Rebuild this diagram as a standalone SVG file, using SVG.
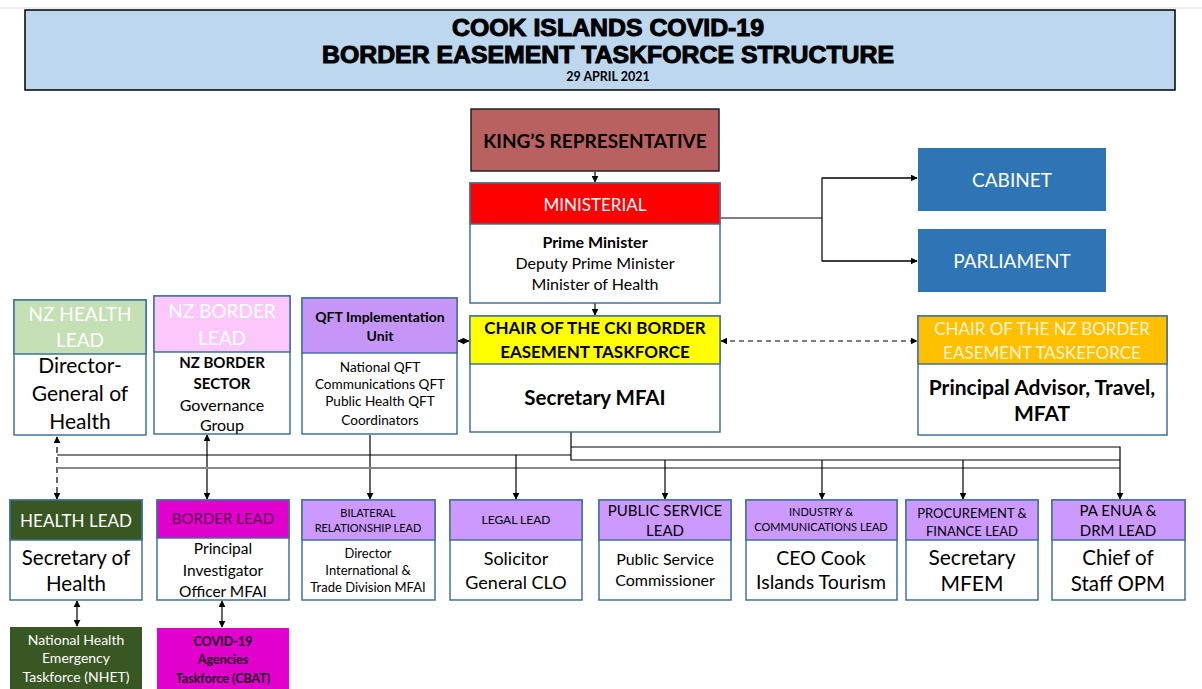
<svg xmlns="http://www.w3.org/2000/svg" width="1202" height="689" viewBox="0 0 1202 689">
<style>
text{font-family:Lato,"Liberation Sans",sans-serif;text-anchor:middle;}
.box{stroke:#41719C;stroke-width:1.5;}
.w{fill:#fff;}
.pur{fill:#CC99FF;}
.ln{stroke:#000;stroke-width:1.2;fill:none;}
.t{font-family:"Liberation Sans",Arial,sans-serif;font-weight:bold;stroke:#000;stroke-width:1;}
</style>
<defs>
<marker id="ah" viewBox="0 0 10 10" refX="9" refY="5" markerWidth="7" markerHeight="7" orient="auto-start-reverse" markerUnits="userSpaceOnUse">
<path d="M0,0 L10,5 L0,10 z" fill="#000"/>
</marker>
</defs>
<rect width="1202" height="689" fill="#fff"/>
<line x1="0" y1="8" x2="1202" y2="8" stroke="#ddd" stroke-width="1"/>
<g id="title">
<rect x="25" y="10" width="1150" height="80" fill="#BDD7EE" stroke="#000" stroke-width="1.5"/>
<text class="t" x="608" y="36" font-size="23" textLength="312" lengthAdjust="spacingAndGlyphs">COOK ISLANDS COVID-19</text>
<text class="t" x="608" y="63" font-size="23" textLength="572" lengthAdjust="spacingAndGlyphs">BORDER EASEMENT TASKFORCE STRUCTURE</text>
<text x="608" y="81" font-size="12.5" font-weight="bold">29 APRIL 2021</text>
</g>
<g id="connectors">
<line class="ln" x1="595" y1="172" x2="595" y2="182" marker-end="url(#ah)"/>
<line class="ln" x1="595" y1="303" x2="595" y2="315" marker-end="url(#ah)"/>
<polyline class="ln" points="720,218 822,218"/>
<polyline class="ln" points="917,178 822,178 822,261 917,261"/>
<line class="ln" x1="822" y1="178" x2="917" y2="178" marker-end="url(#ah)"/>
<line class="ln" x1="822" y1="261" x2="917" y2="261" marker-end="url(#ah)"/>
<line class="ln" x1="458" y1="341" x2="469" y2="341" marker-start="url(#ah)" marker-end="url(#ah)"/>
<line class="ln" x1="721" y1="341" x2="917" y2="341" stroke-dasharray="5,4" stroke="#444" marker-start="url(#ah)" marker-end="url(#ah)"/>
<line class="ln" x1="57" y1="437" x2="57" y2="499" stroke-dasharray="6,4" marker-start="url(#ah)" marker-end="url(#ah)"/>
<line class="ln" x1="207" y1="435" x2="207" y2="499" marker-start="url(#ah)" marker-end="url(#ah)"/>
<line class="ln" x1="370" y1="435" x2="370" y2="499" marker-end="url(#ah)"/>
<polyline class="ln" points="57,455 571,455"/>
<polyline class="ln" points="571,432 571,460 1120,460"/>
<polyline class="ln" points="571,447 1120,447 1120,460"/>
<line x1="57" y1="468" x2="1120" y2="468" stroke="#888" stroke-width="2"/>
<line class="ln" x1="516" y1="455" x2="516" y2="499" marker-end="url(#ah)"/>
<line class="ln" x1="665" y1="460" x2="665" y2="499" marker-end="url(#ah)"/>
<line class="ln" x1="822" y1="460" x2="822" y2="499" marker-end="url(#ah)"/>
<line class="ln" x1="963" y1="460" x2="963" y2="499" marker-end="url(#ah)"/>
<line class="ln" x1="1120" y1="460" x2="1120" y2="499" marker-end="url(#ah)"/>
<line class="ln" x1="77" y1="601" x2="77" y2="626" marker-start="url(#ah)" marker-end="url(#ah)"/>
<line class="ln" x1="222" y1="601" x2="222" y2="627" marker-start="url(#ah)" marker-end="url(#ah)"/>
</g>
<g id="kings-rep">
<rect x="471" y="109" width="248" height="62" fill="#B96060" stroke="#222" stroke-width="1.5"/>
<text x="595" y="148" font-size="19" font-weight="bold">KING’S REPRESENTATIVE</text>
</g>
<g id="ministerial">
<rect class="box w" x="470" y="183" width="250" height="120"/>
<rect class="box" x="470" y="183" width="250" height="41" fill="#FF0000"/>
<text x="595" y="211" font-size="17" fill="#fff">MINISTERIAL</text>
<text x="595" y="248" font-size="16" font-weight="bold">Prime Minister</text>
<text x="595" y="269" font-size="16">Deputy Prime Minister</text>
<text x="595" y="290" font-size="16">Minister of Health</text>
</g>
<g id="cabinet">
<rect x="918" y="148" width="188" height="63" fill="#2E75B6"/>
<text x="1012" y="187" font-size="19" fill="#fff">CABINET</text>
</g>
<g id="parliament">
<rect x="918" y="229" width="188" height="63" fill="#2E75B6"/>
<text x="1012" y="268" font-size="19" fill="#fff">PARLIAMENT</text>
</g>
<g id="chair-cki">
<rect class="box w" x="470" y="316" width="250" height="116"/>
<rect class="box" x="470" y="316" width="250" height="48" fill="#FFFF00"/>
<text x="595" y="334" font-size="17" font-weight="bold">CHAIR OF THE CKI BORDER</text>
<text x="595" y="358" font-size="17" font-weight="bold">EASEMENT TASKFORCE</text>
<text x="595" y="405" font-size="20.5" font-weight="bold">Secretary MFAI</text>
</g>
<g id="chair-nz">
<rect class="box w" x="918" y="316" width="249" height="119"/>
<rect class="box" x="918" y="316" width="249" height="48" fill="#FFC000"/>
<text x="1042" y="335" font-size="17" fill="#FFF4D6">CHAIR OF THE NZ BORDER</text>
<text x="1042" y="359" font-size="17" fill="#FFF4D6">EASEMENT TASKEFORCE</text>
<text x="1042" y="395" font-size="21" font-weight="bold">Principal Advisor, Travel,</text>
<text x="1042" y="421" font-size="21" font-weight="bold">MFAT</text>
</g>
<g id="nz-health-lead">
<rect class="box w" x="14" y="300" width="132" height="135"/>
<rect class="box" x="14" y="300" width="132" height="54" fill="#C5E0B4"/>
<text x="80" y="321" font-size="19" fill="#fff">NZ HEALTH</text>
<text x="80" y="347" font-size="19" fill="#fff">LEAD</text>
<text x="80" y="373" font-size="21">Director-</text>
<text x="80" y="401" font-size="21">General of</text>
<text x="80" y="429" font-size="21">Health</text>
</g>
<g id="nz-border-lead">
<rect class="box w" x="154" y="296" width="136" height="138"/>
<rect class="box" x="154" y="296" width="136" height="56" fill="#FCC8FC"/>
<text x="222" y="318" font-size="19" fill="#fff">NZ BORDER</text>
<text x="222" y="345" font-size="19" fill="#fff">LEAD</text>
<text x="222" y="368" font-size="15" font-weight="bold">NZ BORDER</text>
<text x="222" y="389" font-size="15" font-weight="bold">SECTOR</text>
<text x="222" y="411" font-size="16">Governance</text>
<text x="222" y="431" font-size="16">Group</text>
</g>
<g id="qft-unit">
<rect class="box w" x="302" y="298" width="155" height="136"/>
<rect class="box" x="302" y="298" width="155" height="55" fill="#C596F5"/>
<text x="380" y="322" font-size="14" font-weight="bold">QFT Implementation</text>
<text x="380" y="341" font-size="14" font-weight="bold">Unit</text>
<text x="380" y="372" font-size="13.6">National QFT</text>
<text x="380" y="389" font-size="13.6">Communications QFT</text>
<text x="380" y="406" font-size="13.6">Public Health QFT</text>
<text x="380" y="425" font-size="13.6">Coordinators</text>
</g>
<g id="health-lead">
<rect class="box w" x="10" y="500" width="132" height="100"/>
<rect class="box" x="10" y="500" width="132" height="40" fill="#385723"/>
<text x="76" y="527" font-size="17" fill="#fff">HEALTH LEAD</text>
<text x="76" y="565" font-size="20.5">Secretary of</text>
<text x="76" y="591" font-size="20.5">Health</text>
</g>
<g id="border-lead">
<rect class="box w" x="157" y="500" width="132" height="100"/>
<rect class="box" x="157" y="500" width="132" height="38" fill="#E100CC"/>
<text x="223" y="524" font-size="15" fill="#5A0050">BORDER LEAD</text>
<text x="223" y="554" font-size="15.5">Principal</text>
<text x="223" y="576" font-size="15.5">Investigator</text>
<text x="223" y="597" font-size="15.5">Officer MFAI</text>
</g>
<g id="bilateral-lead">
<rect class="box w" x="302" y="500" width="133" height="100"/>
<rect class="box pur" x="302" y="500" width="133" height="40"/>
<text x="368" y="517" font-size="11">BILATERAL</text>
<text x="368" y="532" font-size="11">RELATIONSHIP LEAD</text>
<text x="368" y="558" font-size="13">Director</text>
<text x="368" y="575" font-size="13">International &amp;</text>
<text x="368" y="592" font-size="13">Trade Division MFAI</text>
</g>
<g id="legal-lead">
<rect class="box w" x="450" y="500" width="132" height="100"/>
<rect class="box pur" x="450" y="500" width="132" height="40"/>
<text x="516" y="524" font-size="12">LEGAL LEAD</text>
<text x="516" y="565" font-size="18">Solicitor</text>
<text x="516" y="589" font-size="18">General CLO</text>
</g>
<g id="public-service-lead">
<rect class="box w" x="599" y="500" width="132" height="100"/>
<rect class="box pur" x="599" y="500" width="132" height="40"/>
<text x="665" y="516" font-size="15">PUBLIC SERVICE</text>
<text x="665" y="536" font-size="15">LEAD</text>
<text x="665" y="565" font-size="16">Public Service</text>
<text x="665" y="586" font-size="16">Commissioner</text>
</g>
<g id="industry-lead">
<rect class="box w" x="746" y="500" width="151" height="100"/>
<rect class="box pur" x="746" y="500" width="151" height="40"/>
<text x="821" y="516" font-size="11">INDUSTRY &amp;</text>
<text x="821" y="531" font-size="11">COMMUNICATIONS LEAD</text>
<text x="821" y="565" font-size="19.5">CEO Cook</text>
<text x="821" y="589" font-size="19.5">Islands Tourism</text>
</g>
<g id="procurement-lead">
<rect class="box w" x="906" y="500" width="132" height="100"/>
<rect class="box pur" x="906" y="500" width="132" height="40"/>
<text x="972" y="518" font-size="13">PROCUREMENT &amp;</text>
<text x="972" y="536" font-size="13">FINANCE LEAD</text>
<text x="972" y="565" font-size="21">Secretary</text>
<text x="972" y="591" font-size="21">MFEM</text>
</g>
<g id="pa-enua-lead">
<rect class="box w" x="1052" y="500" width="133" height="100"/>
<rect class="box pur" x="1052" y="500" width="133" height="40"/>
<text x="1118" y="516" font-size="15">PA ENUA &amp;</text>
<text x="1118" y="536" font-size="15">DRM LEAD</text>
<text x="1118" y="565" font-size="20.5">Chief of</text>
<text x="1118" y="591" font-size="20.5">Staff OPM</text>
</g>
<g id="nhet">
<rect x="10" y="627" width="132" height="62" fill="#385723"/>
<text x="76" y="645" font-size="14" fill="#fff">National Health</text>
<text x="76" y="663" font-size="14" fill="#fff">Emergency</text>
<text x="76" y="682" font-size="14" fill="#fff">Taskforce (NHET)</text>
</g>
<g id="cbat">
<rect x="157" y="628" width="132" height="61" fill="#E100CC"/>
<text x="223" y="646" font-size="12.5" font-weight="bold" fill="#1a001a">COVID-19</text>
<text x="223" y="664" font-size="12.5" font-weight="bold" fill="#1a001a">Agencies</text>
<text x="223" y="683" font-size="12.5" font-weight="bold" fill="#1a001a">Taskforce (CBAT)</text>
</g>
</svg>
